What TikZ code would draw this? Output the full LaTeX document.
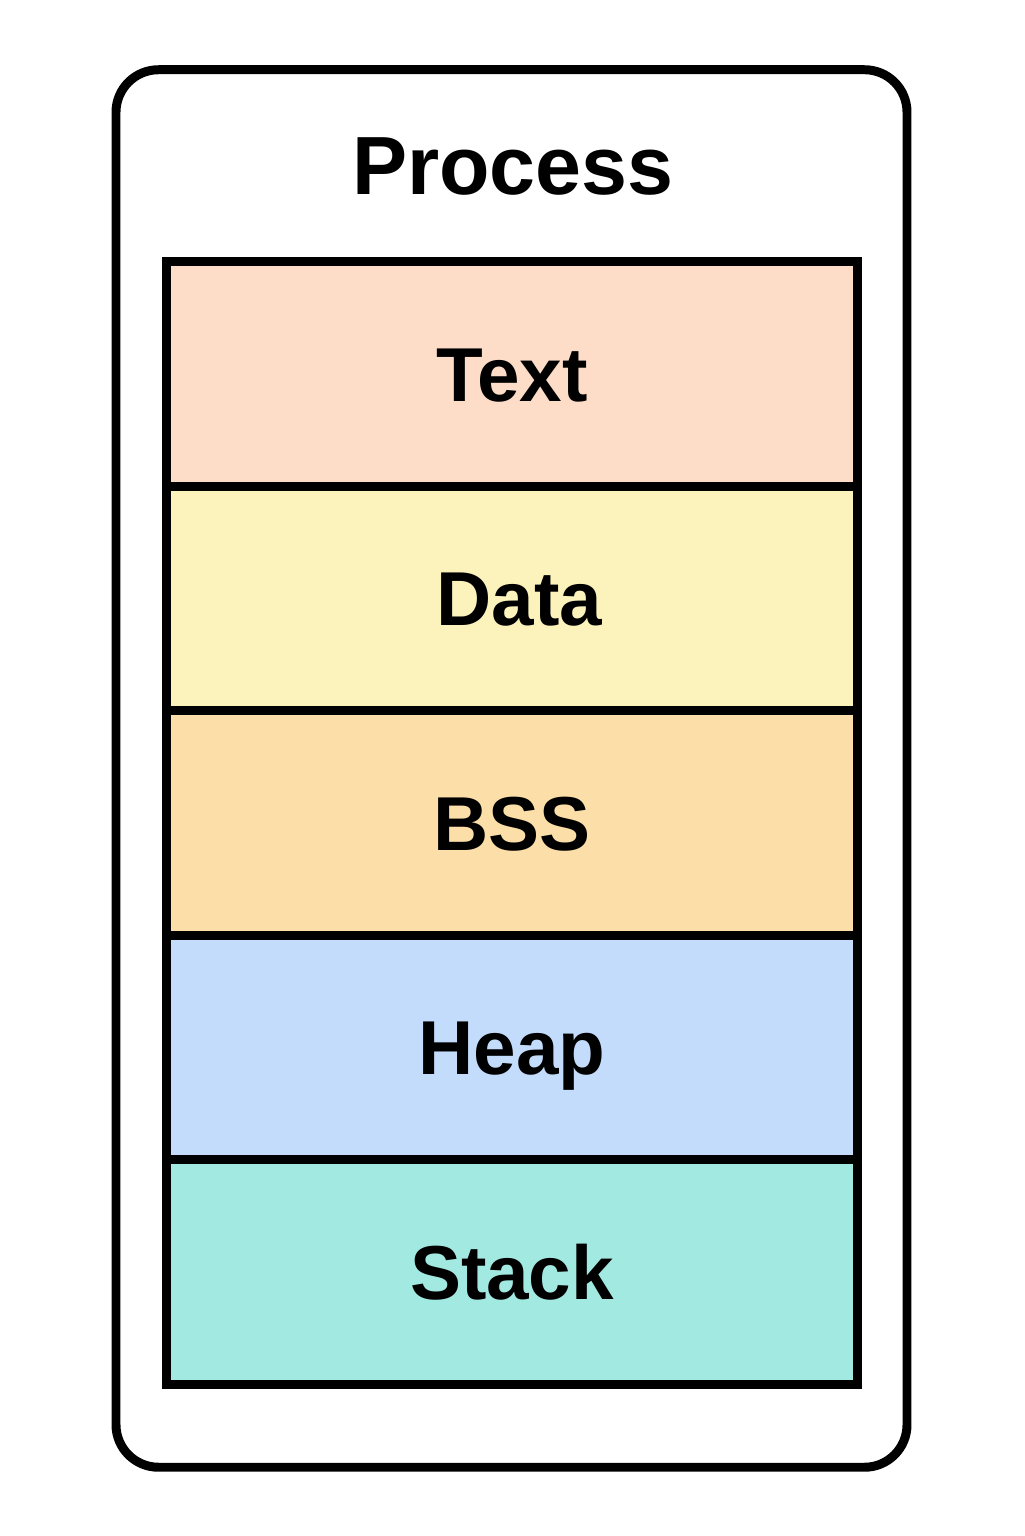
\documentclass[tikz,border=0pt]{standalone}
\usepackage{fontspec}
\setmainfont{Liberation Sans}
\usetikzlibrary{positioning}

\definecolor{textseg}{HTML}{FDDCC8}
\definecolor{dataseg}{HTML}{FCF3BC}
\definecolor{bssseg}{HTML}{FCDFA8}
\definecolor{heapseg}{HTML}{C3DCFB}
\definecolor{stackseg}{HTML}{A2E9E2}

\begin{document}
\begin{tikzpicture}[line width=5.1pt]
	\tikzstyle{proc}=[draw=black,rounded corners=0.85cm,minimum width=15.82cm,minimum height=27.95cm,inner sep=0pt]
	\tikzstyle{seg}=[draw=black,minimum width=13.81cm,minimum height=4.49cm,inner sep=0pt,
		text height=1.1cm,text depth=0pt,font=\fontsize{43.5}{48}\selectfont\bfseries]
	\tikzstyle{title}=[font=\fontsize{47}{52}\selectfont\bfseries]

	\def \segx{10.24cm}

	\useasboundingbox (0,0) rectangle (20.48,30.72);

	\node[proc]	(process)	at (10.23cm,15.35cm)	{};
	\node[title]	(ptitle)	at (10.26cm,27.38cm)	{Process};

	\node[seg,fill=textseg]		(text)	at (\segx,23.24cm)	{Text};
	\node[seg,fill=dataseg]		(data)	at (\segx,18.75cm)	{\hspace*{0.3cm}Data};
	\node[seg,fill=bssseg]		(bss)	at (\segx,14.26cm)	{BSS};
	\node[seg,fill=heapseg]		(heap)	at (\segx,9.77cm)	{Heap};
	\node[seg,fill=stackseg]	(stack)	at (\segx,5.28cm)	{Stack};
\end{tikzpicture}
\end{document}
